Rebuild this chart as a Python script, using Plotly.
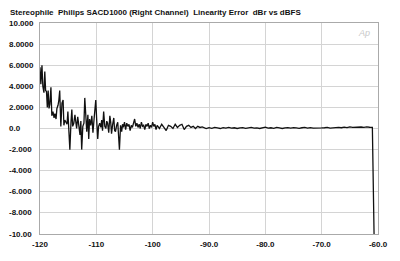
import plotly.graph_objects as go

# Level (dBFS)
level_dbfs = [
    -120.0, -119.85, -119.65, -119.5, -119.3, -119.15, -119.0, -118.85, -118.7, -118.55,
    -118.4, -118.25, -118.06, -117.9, -117.7, -117.5, -117.35, -117.15, -117.0, -116.8,
    -116.65, -116.5, -116.3, -116.1, -115.9, -115.76, -115.6, -115.4, -115.2, -115.05,
    -114.9, -114.7, -114.5, -114.35, -114.2, -114.0, -113.8, -113.65, -113.5, -113.3,
    -113.1, -112.9, -112.75, -112.6, -112.4, -112.2, -112.05, -111.85, -111.7, -111.5,
    -111.35, -111.2, -111.0, -110.8, -110.6, -110.4, -110.1, -109.9, -109.75, -109.6,
    -109.4, -109.2, -109.05, -108.9, -108.7, -108.5, -108.3, -108.15, -108.0, -107.8,
    -107.6, -107.45, -107.3, -107.1, -106.9, -106.75, -106.6, -106.4, -106.2, -105.9,
    -105.7, -105.5, -105.35, -105.2, -105.0, -104.8, -104.6, -104.4, -104.2, -104.0,
    -103.8, -103.6, -103.4, -103.2, -103.0, -102.8, -102.6, -102.4, -102.2, -102.0,
    -101.8, -101.6, -101.4, -101.2, -101.0, -100.8, -100.6, -100.4, -100.2, -100.0,
    -99.8, -99.6, -99.4, -99.2, -98.8, -98.4, -98.0, -97.6, -97.2, -96.8,
    -96.4, -96.0, -95.6, -95.2, -94.8, -94.4, -94.0, -93.6, -93.2, -92.8,
    -92.4, -92.0, -91.6, -91.2, -90.5, -90.0, -89.5, -89.0, -88.5, -88.0,
    -87.5, -87.0, -86.5, -86.0, -85.5, -85.0, -84.5, -84.0, -83.5, -83.0,
    -82.5, -82.0, -81.5, -81.0, -80.5, -80.0, -79.5, -79.0, -78.5, -78.0,
    -77.5, -77.0, -76.5, -76.0, -75.5, -75.0, -74.5, -74.0, -73.5, -73.0,
    -72.5, -72.0, -71.5, -71.0, -70.5, -70.0, -69.5, -69.0, -68.5, -68.0,
    -67.5, -67.0, -66.5, -66.0, -65.5, -65.0, -64.5, -64.0, -63.5, -63.0,
    -62.5, -62.0, -61.5, -61.0, -60.7,
]

# Linearity error (dBr)
error_dbr = [
    5.8, 4.2, 6.0, 4.0, 3.4, 5.4, 3.6, 3.5, 2.0, 3.6,
    1.9, 2.3, 3.9, 1.2, 1.6, 1.0, 1.4, 0.9, 1.9, 2.2,
    2.7, 3.6, 0.2, 2.4, 2.7, 0.3, 0.8, 0.5, 0.4, 1.6,
    -0.3, -2.0, 0.6, 1.8, 0.2, 0.5, 1.3, 0.2, 0.0, 1.1,
    0.3, -0.6, 0.7, -2.0, 0.2, 0.5, 2.9, 0.6, -0.3, 1.3,
    -1.0, 0.9, 0.3, 1.2, -0.4, 0.9, 2.7, 0.4, -1.0, 0.2,
    0.5, 0.1, 0.8, -0.2, 1.6, 0.2, 0.0, 0.7, 0.5, -0.4,
    1.2, 0.6, -0.5, 0.4, 1.0, -0.2, -0.3, 0.3, 0.6, -2.0,
    0.3, -0.3, 0.4, 0.1, 0.6, -0.1, 0.5, 0.2, 0.4, -0.2,
    0.3, 0.1, 0.5, 0.9, 0.2, 0.5, 0.1, 0.4, 0.0, 0.6,
    0.2, 0.3, -0.1, 0.4, 0.2, 0.5, 0.0, 0.3, 0.1, 0.6,
    0.2, 0.4, -0.1, 0.3, 0.0, 0.4, 0.1, -0.2, 0.3, 0.2,
    0.0, 0.4, 0.1, 0.3, 0.4, -0.1, 0.2, 0.3, 0.1, 0.2,
    0.0, 0.2, 0.1, 0.15, 0.0, 0.08, 0.02, 0.1, 0.05, 0.0,
    0.08, 0.03, 0.1, 0.04, 0.07, 0.0, 0.06, 0.09, 0.02, 0.05,
    0.1, 0.03, 0.06, 0.0, 0.08, 0.12, 0.04, 0.07, 0.02, 0.1,
    0.05, 0.0, 0.06, 0.09, 0.03, 0.08, 0.05, 0.02, 0.07, 0.1,
    0.04, 0.08, 0.03, 0.06, 0.09, 0.05, 0.07, 0.1, 0.04, 0.08,
    0.06, 0.1, 0.07, 0.12, 0.08, 0.15, 0.1, 0.13, 0.09, 0.14,
    0.11, 0.16, 0.12, 0.1, -10.0,
]

x_ticks = [-120, -110, -100, -90, -80, -70, -60]
x_tick_text = ["-120", "-110", "-100", "-90.0", "-80.0", "-70.0", "-60.0"]
y_ticks = [10, 8, 6, 4, 2, 0, -2, -4, -6, -8, -10]
y_tick_text = ["10.000", "8.0000", "6.0000", "4.0000", "2.0000", "0.0",
               "-2.000", "-4.000", "-6.000", "-8.000", "-10.00"]

title_text = "Stereophile  Philips SACD1000 (Right Channel)  Linearity Error  dBr vs dBFS"

FONT = "Liberation Sans, Arial, sans-serif"

fig = go.Figure()
fig.add_trace(go.Scatter(
    x=level_dbfs, y=error_dbr, mode="lines",
    line=dict(color="#111111", width=1.3),
    showlegend=False, hoverinfo="skip",
))

annotations = [
    dict(text="<b>" + t + "</b>", x=-0.097, xref="paper", y=v, yref="y",
         xanchor="left", yanchor="middle", showarrow=False,
         font=dict(family=FONT, size=8, color="#111111"))
    for v, t in zip(y_ticks, y_tick_text)
]
annotations.append(dict(text="<b>" + title_text + "</b>", x=(8 - 40) / 340, xref="paper",
                        y=1 + (23 - 12) / 215, yref="paper", showarrow=False,
                        xanchor="left", yanchor="middle",
                        font=dict(family=FONT, size=8, color="#111111")))
annotations.append(dict(text="<i>Ap</i>", x=0.96, xref="paper", y=0.985, yref="paper",
                        showarrow=False, xanchor="center", yanchor="top",
                        font=dict(family=FONT, size=9, color="#c8c8c8")))

fig.update_layout(
    width=400, height=261,
    margin=dict(l=40, r=20, t=23, b=23),
    paper_bgcolor="white", plot_bgcolor="white",
    annotations=annotations,
    xaxis=dict(range=[-120, -60], tickvals=x_ticks,
               ticktext=["<b>" + t + "</b>" for t in x_tick_text],
               showgrid=True, gridcolor="#d4d4d4", gridwidth=1,
               zeroline=False, showline=True, linecolor="#aaaaaa", mirror=True,
               ticks="", tickfont=dict(family=FONT, size=8, color="#111111"),
               ticklabelstandoff=2),
    yaxis=dict(range=[-10, 10], tickvals=y_ticks, showticklabels=False,
               showgrid=True, gridcolor="#d4d4d4", gridwidth=1,
               zeroline=False, showline=True, linecolor="#aaaaaa", mirror=True,
               ticks=""),
)

fig.write_html("out.html")
